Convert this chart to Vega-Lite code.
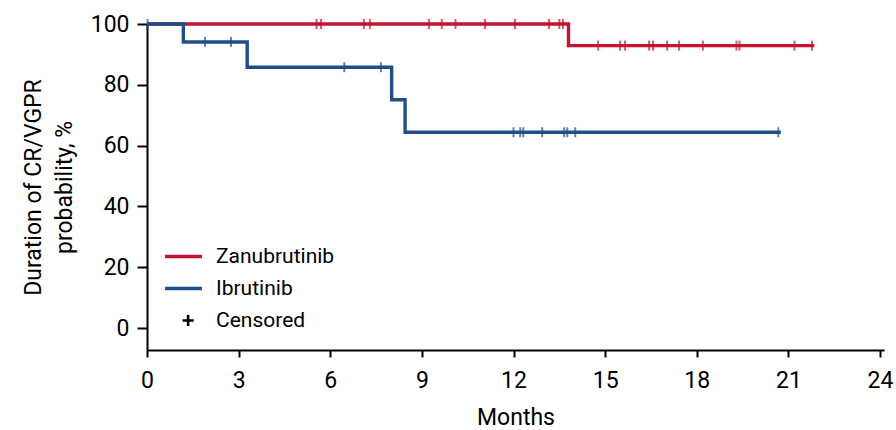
{
  "$schema": "https://vega.github.io/schema/vega-lite/v6.json",
  "autosize": "none",
  "width": 737,
  "height": 326,
  "padding": {"left": 147, "top": 24, "right": 12, "bottom": 80},
  "background": "white",
  "config": {
    "font": "Roboto",
    "view": {"stroke": null},
    "axis": {
      "grid": false,
      "domainColor": "black",
      "domainWidth": 2,
      "tickColor": "black",
      "tickWidth": 2,
      "labelColor": "black",
      "labelFontSize": 23,
      "labelFont": "Roboto",
      "labelFlush": false,
      "titleFont": "Roboto",
      "titleColor": "black",
      "titleFontSize": 23,
      "titleFontWeight": "normal"
    }
  },
  "datasets": {
    "curves": [
      {"arm": "Zanubrutinib", "month": 0, "pct": 100},
      {"arm": "Zanubrutinib", "month": 13.8, "pct": 92.9},
      {"arm": "Zanubrutinib", "month": 21.85, "pct": 92.9},
      {"arm": "Ibrutinib", "month": 0, "pct": 100},
      {"arm": "Ibrutinib", "month": 1.19, "pct": 94.1},
      {"arm": "Ibrutinib", "month": 3.28, "pct": 85.8},
      {"arm": "Ibrutinib", "month": 8.01, "pct": 75.1},
      {"arm": "Ibrutinib", "month": 8.45, "pct": 64.4},
      {"arm": "Ibrutinib", "month": 20.75, "pct": 64.4}
    ],
    "censored": [
      {"arm": "Zanubrutinib", "month": 5.55, "pct": 100},
      {"arm": "Zanubrutinib", "month": 5.7, "pct": 100},
      {"arm": "Zanubrutinib", "month": 7.1, "pct": 100},
      {"arm": "Zanubrutinib", "month": 7.3, "pct": 100},
      {"arm": "Zanubrutinib", "month": 9.23, "pct": 100},
      {"arm": "Zanubrutinib", "month": 9.65, "pct": 100},
      {"arm": "Zanubrutinib", "month": 10.1, "pct": 100},
      {"arm": "Zanubrutinib", "month": 11.07, "pct": 100},
      {"arm": "Zanubrutinib", "month": 12.05, "pct": 100},
      {"arm": "Zanubrutinib", "month": 13.16, "pct": 100},
      {"arm": "Zanubrutinib", "month": 13.5, "pct": 100},
      {"arm": "Zanubrutinib", "month": 13.62, "pct": 100},
      {"arm": "Zanubrutinib", "month": 14.77, "pct": 92.9},
      {"arm": "Zanubrutinib", "month": 15.49, "pct": 92.9},
      {"arm": "Zanubrutinib", "month": 15.65, "pct": 92.9},
      {"arm": "Zanubrutinib", "month": 16.44, "pct": 92.9},
      {"arm": "Zanubrutinib", "month": 16.57, "pct": 92.9},
      {"arm": "Zanubrutinib", "month": 17.03, "pct": 92.9},
      {"arm": "Zanubrutinib", "month": 17.42, "pct": 92.9},
      {"arm": "Zanubrutinib", "month": 18.2, "pct": 92.9},
      {"arm": "Zanubrutinib", "month": 19.3, "pct": 92.9},
      {"arm": "Zanubrutinib", "month": 19.4, "pct": 92.9},
      {"arm": "Zanubrutinib", "month": 21.2, "pct": 92.9},
      {"arm": "Zanubrutinib", "month": 21.77, "pct": 92.9},
      {"arm": "Ibrutinib", "month": 0.02, "pct": 100},
      {"arm": "Ibrutinib", "month": 1.9, "pct": 94.1},
      {"arm": "Ibrutinib", "month": 2.75, "pct": 94.1},
      {"arm": "Ibrutinib", "month": 6.46, "pct": 85.8},
      {"arm": "Ibrutinib", "month": 7.66, "pct": 85.8},
      {"arm": "Ibrutinib", "month": 12.0, "pct": 64.4},
      {"arm": "Ibrutinib", "month": 12.22, "pct": 64.4},
      {"arm": "Ibrutinib", "month": 12.32, "pct": 64.4},
      {"arm": "Ibrutinib", "month": 12.94, "pct": 64.4},
      {"arm": "Ibrutinib", "month": 13.66, "pct": 64.4},
      {"arm": "Ibrutinib", "month": 13.76, "pct": 64.4},
      {"arm": "Ibrutinib", "month": 14.02, "pct": 64.4},
      {"arm": "Ibrutinib", "month": 20.67, "pct": 64.4}
    ]
  },
  "encoding": {
    "x": {
      "field": "month",
      "type": "quantitative",
      "scale": {"domain": [0, 24.13], "nice": false, "zero": false},
      "axis": {"values": [0, 3, 6, 9, 12, 15, 18, 21, 24], "title": "Months", "tickSize": 7, "labelPadding": 12, "titlePadding": 14}
    },
    "y": {
      "field": "pct",
      "type": "quantitative",
      "scale": {"domain": [-7.2, 100], "nice": false, "zero": false},
      "axis": {
        "values": [0, 20, 40, 60, 80, 100],
        "title": ["Duration of CR/VGPR", "probability, %"],
        "titleLineHeight": 31,
        "tickSize": 10,
        "labelPadding": 8,
        "titlePadding": 14
      }
    }
  },
  "resolve": {"scale": {"color": "independent"}, "legend": {"color": "independent"}},
  "layer": [
    {
      "data": {"name": "curves"},
      "mark": {"type": "line", "interpolate": "step-after", "strokeWidth": 3.4},
      "encoding": {
        "color": {
          "field": "arm",
          "type": "nominal",
          "scale": {"domain": ["Zanubrutinib", "Ibrutinib", "Censored"], "range": ["#c4122f", "#1f4f8b", "#000000"]},
          "legend": {
            "title": null,
            "orient": "none",
            "legendX": 26,
            "legendY": 222,
            "symbolType": "M-2,0H2",
            "symbolSize": 340,
            "symbolStrokeWidth": 3,
            "labelFontSize": 21,
            "labelFont": "Roboto",
            "labelColor": "black",
            "labelOffset": 22,
            "rowPadding": 10,
            "encode": {
              "symbols": {
                "update": {
                  "shape": {"signal": "datum.label === 'Censored' ? 'M-0.1,0H1.1M0.5,-0.6V0.6' : 'M-2,0H2'"},
                  "strokeWidth": {"signal": "datum.label === 'Censored' ? 2.6 : 3.4"}
                }
              }
            }
          }
        }
      }
    },
    {
      "data": {"name": "censored"},
      "mark": {"type": "tick", "orient": "vertical", "size": 10, "thickness": 2},
      "encoding": {
        "color": {
          "field": "arm",
          "type": "nominal",
          "scale": {"domain": ["Zanubrutinib", "Ibrutinib"], "range": ["#c4122f", "#1f4f8b"]},
          "legend": null
        }
      }
    }
  ]
}
